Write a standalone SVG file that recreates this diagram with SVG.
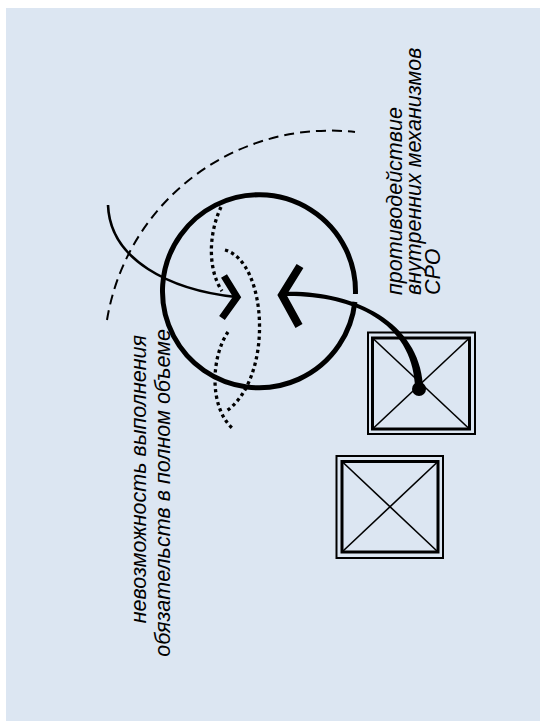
<svg xmlns="http://www.w3.org/2000/svg" width="540" height="722" viewBox="0 0 540 722">
  <style>
    .lbl { font-family: "Liberation Sans", Arial, sans-serif; font-style: italic; font-size: 21.5px; fill: #000; }
    .dot { fill: none; stroke: #000; stroke-width: 3.3; stroke-dasharray: 3.3 3.3; }
    .box-o { fill: none; stroke: #000; stroke-width: 2; }
    .box-i { fill: none; stroke: #000; stroke-width: 3; }
    .diag { stroke: #000; stroke-width: 1.6; }
    .chev { fill: none; stroke: #000; stroke-linejoin: miter; stroke-linecap: butt; }
  </style>
  <rect x="6" y="8" width="534" height="713" fill="#dce6f2"/>

  <g id="outer-arc">
    <path d="M107,320 A226,226 0 0 1 355,132" fill="none" stroke="#000" stroke-width="2" stroke-dasharray="10 6"/>
  </g>

  <g id="circle">
    <path d="M354.9,301.9 A96.5,96.5 0 1 1 355.45,294" fill="none" stroke="#000" stroke-width="5"/>
  </g>

  <g id="box-1">
    <rect class="box-o" x="368" y="332.5" width="107" height="101.5"/>
    <rect class="box-i" x="372.5" y="338" width="97" height="91"/>
    <line class="diag" x1="372.5" y1="338" x2="469.5" y2="429"/>
    <line class="diag" x1="469.5" y1="338" x2="372.5" y2="429"/>
  </g>

  <g id="box-2">
    <rect class="box-o" x="336.5" y="456" width="106.5" height="102"/>
    <rect class="box-i" x="342" y="461.5" width="96" height="90.5"/>
    <line class="diag" x1="342" y1="461.5" x2="438" y2="552"/>
    <line class="diag" x1="438" y1="461.5" x2="342" y2="552"/>
  </g>

  <g id="label-left">
    <text class="lbl" transform="translate(146,329) rotate(-90)" text-anchor="end">
      <tspan x="0" y="0">невозможность выполнения</tspan>
      <tspan x="0" y="24">обязательств в полном объеме</tspan>
    </text>
  </g>

  <g id="label-right">
    <text class="lbl" transform="translate(402,295) rotate(-90)">
      <tspan x="0" y="0">противодействие</tspan>
      <tspan x="0" y="19">внутренних механизмов</tspan>
      <tspan x="0" y="38">СРО</tspan>
    </text>
  </g>

  <g id="connectors">
    <path class="dot" d="M221,207 C208,235 208,270 222,291"/>
    <path class="dot" d="M228,332 C212,355 208,405 232,428"/>
    <path class="dot" d="M225,250 C268,262 274,380 225,412"/>
    <path d="M108,205 C110,260 170,290 236,297" fill="none" stroke="#000" stroke-width="2.6"/>
    <polyline class="chev" points="224,276 237,297 222,318" stroke-width="7"/>
    <path d="M283,292 C350,289.5 418.5,319.8 423,385 L415,385 C411.5,320.2 350,294.5 283,296 Z" fill="#000"/>
    <polyline class="chev" points="300,266 282,295 299,326" stroke-width="8"/>
    <circle cx="419" cy="389" r="7" fill="#000"/>
  </g>
</svg>
